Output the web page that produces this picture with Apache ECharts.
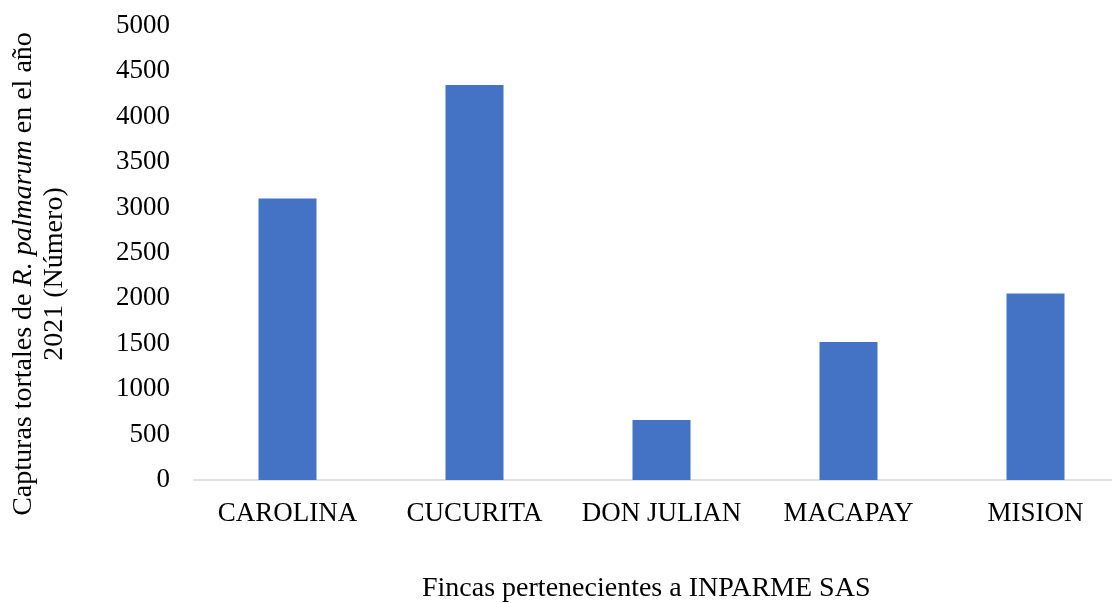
<!DOCTYPE html>
<html>
<head>
<meta charset="utf-8">
<script src="https://cdn.jsdelivr.net/npm/echarts@6/dist/echarts.min.js"></script>
<style>
  html, body { margin: 0; padding: 0; background: #fff; }
  #chart { width: 1112px; height: 603px; }
</style>
</head>
<body>
<div id="chart"></div>
<script>
const categories = ['CAROLINA', 'CUCURITA', 'DON JULIAN', 'MACAPAY', 'MISION'];
const capturas = [3100, 4350, 660, 1520, 2055];
const yTicks = [0, 500, 1000, 1500, 2000, 2500, 3000, 3500, 4000, 4500, 5000];
const xTitle = 'Fincas pertenecientes a INPARME SAS';

const FONT = '"Liberation Serif", "Times New Roman", serif';
const chart = echarts.init(document.getElementById('chart'), null, { renderer: 'canvas' });

chart.setOption({
  animation: false,
  backgroundColor: '#ffffff',
  textStyle: { fontFamily: FONT },
  title: {
    text: xTitle,
    left: 417,
    top: 570,
    textStyle: { fontFamily: FONT, fontSize: 28, fontWeight: 'normal', color: '#000' }
  },
  grid: {
    left: 194, right: -17, top: 26, bottom: 123,
    containLabel: false, outerBoundsMode: 'none'
  },
  xAxis: {
    type: 'category',
    data: categories,
    axisLine: { show: true, lineStyle: { color: '#d9d9d9', width: 1.5 } },
    axisTick: { show: false },
    axisLabel: { interval: 0, margin: 20, color: '#000', fontFamily: FONT, fontSize: 27 }
  },
  yAxis: {
    type: 'value',
    min: yTicks[0],
    max: yTicks[yTicks.length - 1],
    interval: yTicks[1] - yTicks[0],
    axisLine: { show: false },
    axisTick: { show: false },
    splitLine: { show: false },
    axisLabel: {
      margin: 24, color: '#000', fontFamily: FONT, fontSize: 27,
      formatter: function (v) { return String(v); }
    }
  },
  series: [{
    type: 'bar',
    data: capturas,
    barWidth: 58,
    itemStyle: { color: '#4472C4' }
  }],
  graphic: [{
    type: 'text',
    x: 39,
    y: 274,
    rotation: Math.PI / 2,
    style: {
      text: '{n|Capturas tortales de }{i|R. palmarum}{n| en el año}\n{n|2021 (Número)}',
      align: 'center',
      verticalAlign: 'middle',
      fill: '#000',
      font: '28px ' + FONT,
      lineHeight: 31,
      rich: {
        n: { fontFamily: FONT, fontSize: 28, fontStyle: 'normal', lineHeight: 31, fill: '#000' },
        i: { fontFamily: FONT, fontSize: 28, fontStyle: 'italic', lineHeight: 31, fill: '#000' }
      }
    }
  }]
});
</script>
</body>
</html>
